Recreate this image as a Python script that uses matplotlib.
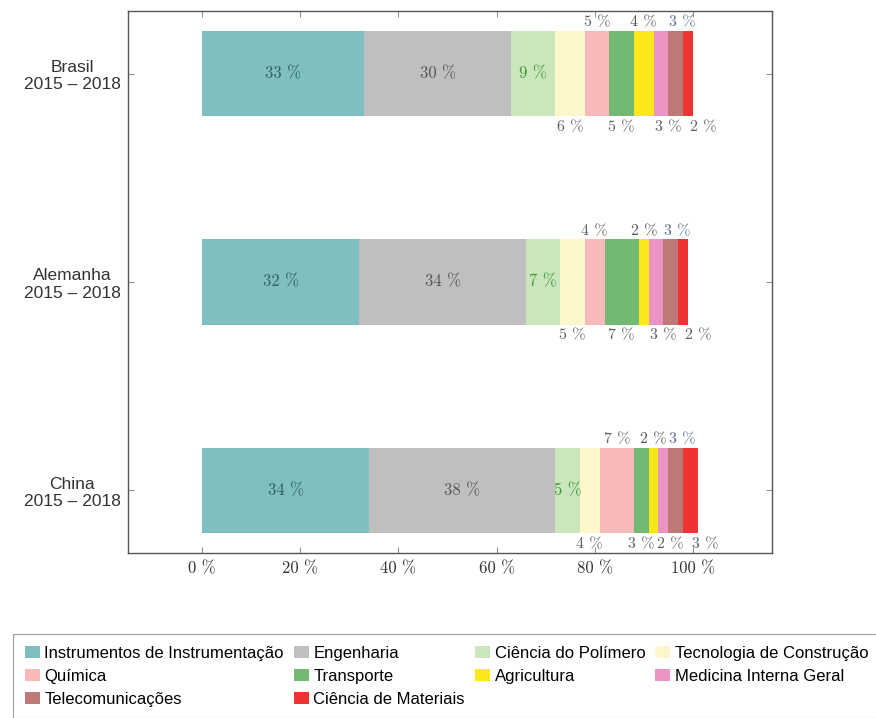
import matplotlib
matplotlib.use("Agg")
import matplotlib.pyplot as plt
import numpy as np

regions = ["Brasil\n2015 – 2018", "Alemanha\n2015 – 2018", "China\n2015 – 2018"]
areas = ["Instrumentos de Instrumentação", "Engenharia", "Ciência do Polímero",
         "Tecnologia de Construção", "Química", "Transporte", "Agricultura",
         "Medicina Interna Geral", "Telecomunicações", "Ciência de Materiais"]
brasil = [33, 30, 9, 6, 5, 5, 4, 3, 3, 2]
alemanha = [32, 34, 7, 5, 4, 7, 2, 3, 3, 2]
china = [34, 38, 5, 4, 7, 3, 2, 2, 3, 3]
xticks = [0, 20, 40, 60, 80, 100]

colors = ["#7fbfbf", "#bfbfbf", "#cbe6bd", "#fff7cc", "#f7b9b9", "#73b873",
          "#fbe81a", "#eb93c3", "#bf7878", "#ee3333"]
label_colors = ["#2f5f5f", "#555555", "#3f9a3f", "#606060", "#606060", "#606060",
                "#555555", "#606060", "#5f6f8f", "#606060"]
# where the value label goes: inside, above or below the bar, and a small nudge (pt)
label_pos = ["in", "in", "in", "below", "above", "below", "above", "below", "above", "below"]
label_dx = [0, 0, 0, 0, 0, 0, 0, 5, 5, 11]

data = np.array([brasil, alemanha, china])
ypos = np.arange(len(regions))
serif = "cmr10"
sans = "Liberation Sans"

fig = plt.figure(figsize=(8.76, 7.18), dpi=100)
ax = fig.add_axes([0.1461, 0.2298, 0.7352, 0.7549])

bar_h = 0.41
left = np.zeros(len(regions))
handles = []
for j, area in enumerate(areas):
    vals = data[:, j]
    b = ax.barh(ypos, vals, left=left, height=bar_h, color=colors[j], label=area, linewidth=0)
    handles.append(b)
    for i in range(len(regions)):
        xc = left[i] + vals[i] / 2
        txt = f"{vals[i]} %"
        if label_pos[j] == "in":
            y, va, dy, fs = ypos[i], "center", 0, 12
        elif label_pos[j] == "above":
            y, va, dy, fs = ypos[i] - bar_h / 2, "bottom", 1, 11.5
        else:
            y, va, dy, fs = ypos[i] + bar_h / 2, "top", -3, 11.5
        ax.annotate(txt, (xc, y), xytext=(label_dx[j], dy), textcoords="offset points",
                    ha="center", va=va, fontsize=fs, family=serif, color=label_colors[j])
    left = left + vals

ax.set_xlim(-15.15, 116.15)
ax.set_ylim(2.3, -0.3)
ax.set_xticks(xticks)
ax.set_xticklabels([f"{t} %" for t in xticks], family=serif, fontsize=12, color="#333333")
ax.set_yticks(ypos)
ax.set_yticklabels(regions, family=sans, fontsize=12.5, ha="center",
                   multialignment="center", color="#333333")
ax.tick_params(axis="y", pad=40)
ax.tick_params(axis="x", pad=6)
ax.tick_params(direction="in", length=4, width=0.6, color="#777777",
               top=True, right=True)
for s in ax.spines.values():
    s.set_color("#555555")
    s.set_linewidth(1.0)

# legend reads row by row in the reference; matplotlib fills columns first
order = [0, 4, 8, 1, 5, 9, 2, 6, 3, 7]
leg = fig.legend(handles=[handles[k] for k in order], labels=[areas[k] for k in order],
                 ncol=4, loc="upper left",
                 bbox_to_anchor=(0.0148, 0.0, 0.99, 0.117), mode="expand",
                 prop={"family": sans, "size": 12}, frameon=True, fancybox=False,
                 edgecolor="#888888", handlelength=0.9, handleheight=0.72,
                 handletextpad=0.28, columnspacing=0.5, borderaxespad=0.0,
                 borderpad=0.7, labelspacing=0.48)
leg.get_frame().set_linewidth(0.8)

fig.savefig("out.png", dpi=100)
